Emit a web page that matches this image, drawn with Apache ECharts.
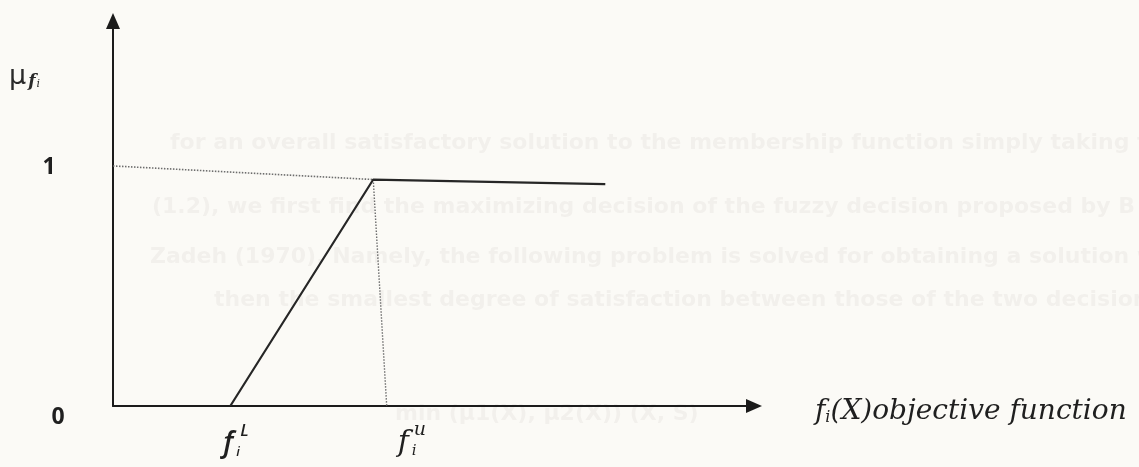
<!DOCTYPE html>
<html>
<head>
<meta charset="utf-8">
<script src="https://cdn.jsdelivr.net/npm/echarts@6/dist/echarts.min.js"></script>
<style>
  html, body { margin: 0; padding: 0; background: #fbfaf6; }
  #chart { width: 1139px; height: 467px; }
</style>
</head>
<body>
<div id="chart"></div>
<script>
// Linear membership function of an objective f_i(X):
// 0 below the lower bound f_i^L, rising to 1 at the upper bound f_i^u, then flat.
const fLower = 18.3;
const fUpper = 40.6;
const fUpperFoot = 42.7;
const fEnd = 76.8;

const membershipX = [fLower, fUpper, fEnd];
const membershipY = [0, 1, 0.98];

// dotted guide from the "1" level to the upper bound, and down to the x axis
const levelGuideX = [0, fUpper];
const levelGuideY = [1.06, 1];
const boundGuideX = [fUpper, fUpperFoot];
const boundGuideY = [1, 0];

const yTickValues = [0, 1];
const yTickLabels = ['0', '1'];
const boundSuperscripts = ['L', 'u'];
const axisTitleTail = '(X)objective function';

// faint print showing through from the reverse side of the page
const throughText = [
  'for an overall satisfactory solution to the membership function simply taking the',
  '(1.2), we first find the maximizing decision of the fuzzy decision proposed by B',
  'Zadeh (1970). Namely, the following problem is solved for obtaining a solution wh',
  'then the smallest degree of satisfaction between those of the two decision m',
  'min (\u03bc1(X), \u03bc2(X)) (X, S)'
];

const pair = (xs, ys) => xs.map((x, i) => [x, ys[i]]);

const AXIS = '#1b1b1b';
const INK = '#262626';
const DOT = '#6d6d6d';

const chart = echarts.init(document.getElementById('chart'), null, { renderer: 'canvas' });

const axisCommon = {
  type: 'value',
  axisLine: {
    show: true,
    symbol: ['none', 'triangle'],
    symbolSize: [14, 16],
    lineStyle: { color: AXIS, width: 2 }
  },
  axisTick: { show: false },
  axisLabel: { show: false },
  splitLine: { show: false }
};

chart.setOption({
  backgroundColor: '#fbfaf6',
  animation: false,
  grid: { left: 113, top: 21, right: 385, bottom: 61, containLabel: false },
  xAxis: Object.assign({}, axisCommon, { min: 0, max: 100 }),
  yAxis: Object.assign({}, axisCommon, { min: 0, max: 1.7 }),
  series: [
    {
      name: 'membership',
      type: 'line',
      data: pair(membershipX, membershipY),
      symbol: 'none',
      clip: false,
      lineStyle: { color: INK, width: 2.2 },
      z: 5
    },
    {
      name: 'level guide',
      type: 'line',
      data: pair(levelGuideX, levelGuideY),
      symbol: 'none',
      clip: false,
      lineStyle: { color: DOT, width: 1.6, type: [1.5, 1.5] },
      z: 3
    },
    {
      name: 'bound guide',
      type: 'line',
      data: pair(boundGuideX, boundGuideY),
      symbol: 'none',
      clip: false,
      lineStyle: { color: DOT, width: 1.4, type: [1.5, 1.5] },
      z: 3
    }
  ]
});

// text placed relative to the axes' own pixel positions
const px = (x, y) => chart.convertToPixel({ gridIndex: 0 }, [x, y]);
const origin = px(0, 0);
const xTip = px(100, 0)[0] + 8;
const yTop = px(0, 1.7)[1] - 8;

const graphics = [];

throughText.forEach((line, i) => {
  const spots = [[170, 143], [152, 207], [150, 257], [214, 300], [395, 414]];
  graphics.push({
    type: 'text', silent: true, z: -10,
    x: spots[i][0], y: spots[i][1],
    style: {
      text: line,
      fill: 'rgba(70,62,55,0.05)',
      font: 'bold 22px "DejaVu Sans"',
      verticalAlign: 'middle',
      shadowBlur: 4, shadowColor: 'rgba(70,62,55,0.06)'
    }
  });
});

// y tick labels
yTickValues.forEach((v, i) => {
  const p = px(0, v);
  const dy = v === 0 ? 11 : -12;
  const dx = v === 0 ? -55 : -64;
  graphics.push({
    type: 'text', z: 10,
    x: p[0] + dx, y: p[1] + dy,
    style: {
      text: yTickLabels[i],
      fill: '#1f1f1f',
      font: 'bold 23px "Open Sans"',
      align: 'center', verticalAlign: 'middle'
    }
  });
});

// y axis name: mu with subscript f_i
graphics.push({
  type: 'text', z: 10,
  x: origin[0] - 104, y: yTop + 50,
  style: {
    text: '{m|\u03bc}{s|f}{t|i}',
    fill: '#2a2a2a',
    rich: {
      m: { font: '27px "DejaVu Sans"', fill: '#2a2a2a', verticalAlign: 'bottom' },
      s: { font: 'italic bold 17px "DejaVu Serif"', fill: '#2a2a2a', verticalAlign: 'bottom', padding: [0, 0, 0, 2] },
      t: { font: 'italic 11px "DejaVu Serif"', fill: '#2a2a2a', verticalAlign: 'bottom', padding: [0, 0, 0, 1] }
    }
  }
});

// bound labels f_i^L and f_i^u under the x axis
const boundAnchors = [px(fLower, 0), px(fUpperFoot, 0)];
const boundFonts = [
  { f: 'italic 600 29px "Open Sans"', sub: 'italic 600 13px "Open Sans"', sup: 'italic 600 17px "Open Sans"', fx: -7, subx: 6, supx: 10 },
  { f: 'italic 30px "DejaVu Serif"', sub: 'italic 15px "DejaVu Serif"', sup: 'italic 19px "DejaVu Serif"', fx: 11, subx: 25, supx: 27 }
];
boundAnchors.forEach((p, i) => {
  const bf = boundFonts[i];
  graphics.push({
    type: 'text', z: 10, x: p[0] + bf.fx, y: p[1] + 52,
    style: { text: 'f', fill: '#1f1f1f', font: bf.f, verticalAlign: 'bottom' }
  });
  graphics.push({
    type: 'text', z: 10, x: p[0] + bf.subx, y: p[1] + 53,
    style: { text: 'i', fill: '#1f1f1f', font: bf.sub, verticalAlign: 'bottom' }
  });
  graphics.push({
    type: 'text', z: 10, x: p[0] + bf.supx, y: p[1] + 34,
    style: { text: boundSuperscripts[i], fill: '#1f1f1f', font: bf.sup, verticalAlign: 'bottom' }
  });
});

// x axis name: f_i(X)objective function
graphics.push({
  type: 'text', z: 10,
  x: xTip + 53, y: origin[1] + 4,
  style: {
    text: '{f|f}{s|i}{n|' + axisTitleTail + '}',
    verticalAlign: 'middle',
    rich: {
      f: { font: 'italic 28px "DejaVu Serif"', fill: '#1f1f1f', verticalAlign: 'bottom', lineHeight: 32 },
      s: { font: 'italic 16px "DejaVu Serif"', fill: '#1f1f1f', verticalAlign: 'bottom', lineHeight: 26 },
      n: { font: 'italic 28px "DejaVu Serif"', fill: '#1f1f1f', verticalAlign: 'bottom', lineHeight: 32 }
    }
  }
});

chart.setOption({ graphic: graphics });
</script>
</body>
</html>
